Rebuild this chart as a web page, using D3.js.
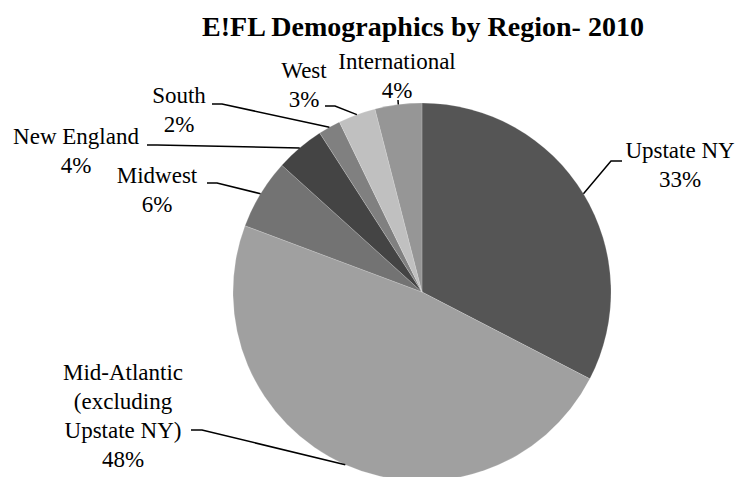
<!DOCTYPE html>
<html>
<head>
<meta charset="utf-8">
<script src="https://cdn.jsdelivr.net/npm/d3@7"></script>
<style>
  html, body { margin: 0; padding: 0; background: #fff; }
  svg { display: block; }
  .leader { fill: none; stroke: #000; stroke-width: 1.5; }
</style>
</head>
<body>
<svg id="chart" width="737" height="477"></svg>
<script>
// data
const regions = ["Upstate NY", "Mid-Atlantic (excluding Upstate NY)", "Midwest", "New England", "South", "West", "International"];
const shares = [32.6, 48.1, 6.0, 4.2, 1.9, 3.2, 4.0];
const pctLabels = ["33%", "48%", "6%", "4%", "2%", "3%", "4%"];
const nameLines = [["Upstate NY"], ["Mid-Atlantic", "(excluding", "Upstate NY)"], ["Midwest"], ["New England"], ["South"], ["West"], ["International"]];
const shades = ["#555555", "#a0a0a0", "#737373", "#444444", "#808080", "#c0c0c0", "#969696"];

// label layout: text centre, first baseline, leader start + elbow
const labelPos = [
    { x: 680, y: 158, lx: 622, ly: 161, ex: 611 },
    { x: 123, y: 380, lx: 191, ly: 430, ex: 202 },
    { x: 157, y: 183, lx: 207, ly: 183, ex: 217 },
    { x: 76,  y: 144, lx: 147, ly: 145, ex: 157 },
    { x: 179, y: 103, lx: 212, ly: 104, ex: 222 },
    { x: 304, y: 78,  lx: 325, ly: 106, ex: 335 },
    { x: 397, y: 69,  lx: 398, ly: 100, ex: 398 }
];

const FONT = "Liberation Serif";
const svg = d3.select("#chart");
const cx = 422, cy = 292, r = 189;
const lineH = 29;

svg.append("text")
    .style("font-family", FONT).style("font-weight", "bold").style("font-size", "28px")
    .attr("x", 423).attr("y", 36).attr("text-anchor", "middle")
    .text("E!FL Demographics by Region- 2010");

const pie = d3.pie().sort(null).value(d => d)(shares);
const arc = d3.arc().innerRadius(0).outerRadius(r);
const edge = d3.arc().innerRadius(r).outerRadius(r);

const g = svg.append("g").attr("transform", `translate(${cx},${cy})`);

g.selectAll("path.slice")
    .data(pie).enter().append("path")
    .attr("class", "slice")
    .attr("d", arc)
    .attr("fill", (d, i) => shades[i])
    .attr("stroke", "rgba(255,255,255,0.35)")
    .attr("stroke-width", 0.5);

// leader lines: label elbow -> slice mid-angle on the rim
pie.forEach((d, i) => {
    const p = labelPos[i];
    const [ex, ey] = edge.centroid(d);
    svg.append("path").attr("class", "leader")
        .attr("d", `M${p.lx},${p.ly} L${p.ex},${p.ly} L${cx + ex},${cy + ey}`);
});

pie.forEach((d, i) => {
    const p = labelPos[i];
    const lines = nameLines[i].concat([pctLabels[i]]);
    const t = svg.append("text")
        .style("font-family", FONT).style("font-size", "23px")
        .attr("text-anchor", "middle");
    lines.forEach((s, k) => {
        t.append("tspan").attr("x", p.x).attr("y", p.y + k * lineH).text(s);
    });
});
</script>
</body>
</html>
